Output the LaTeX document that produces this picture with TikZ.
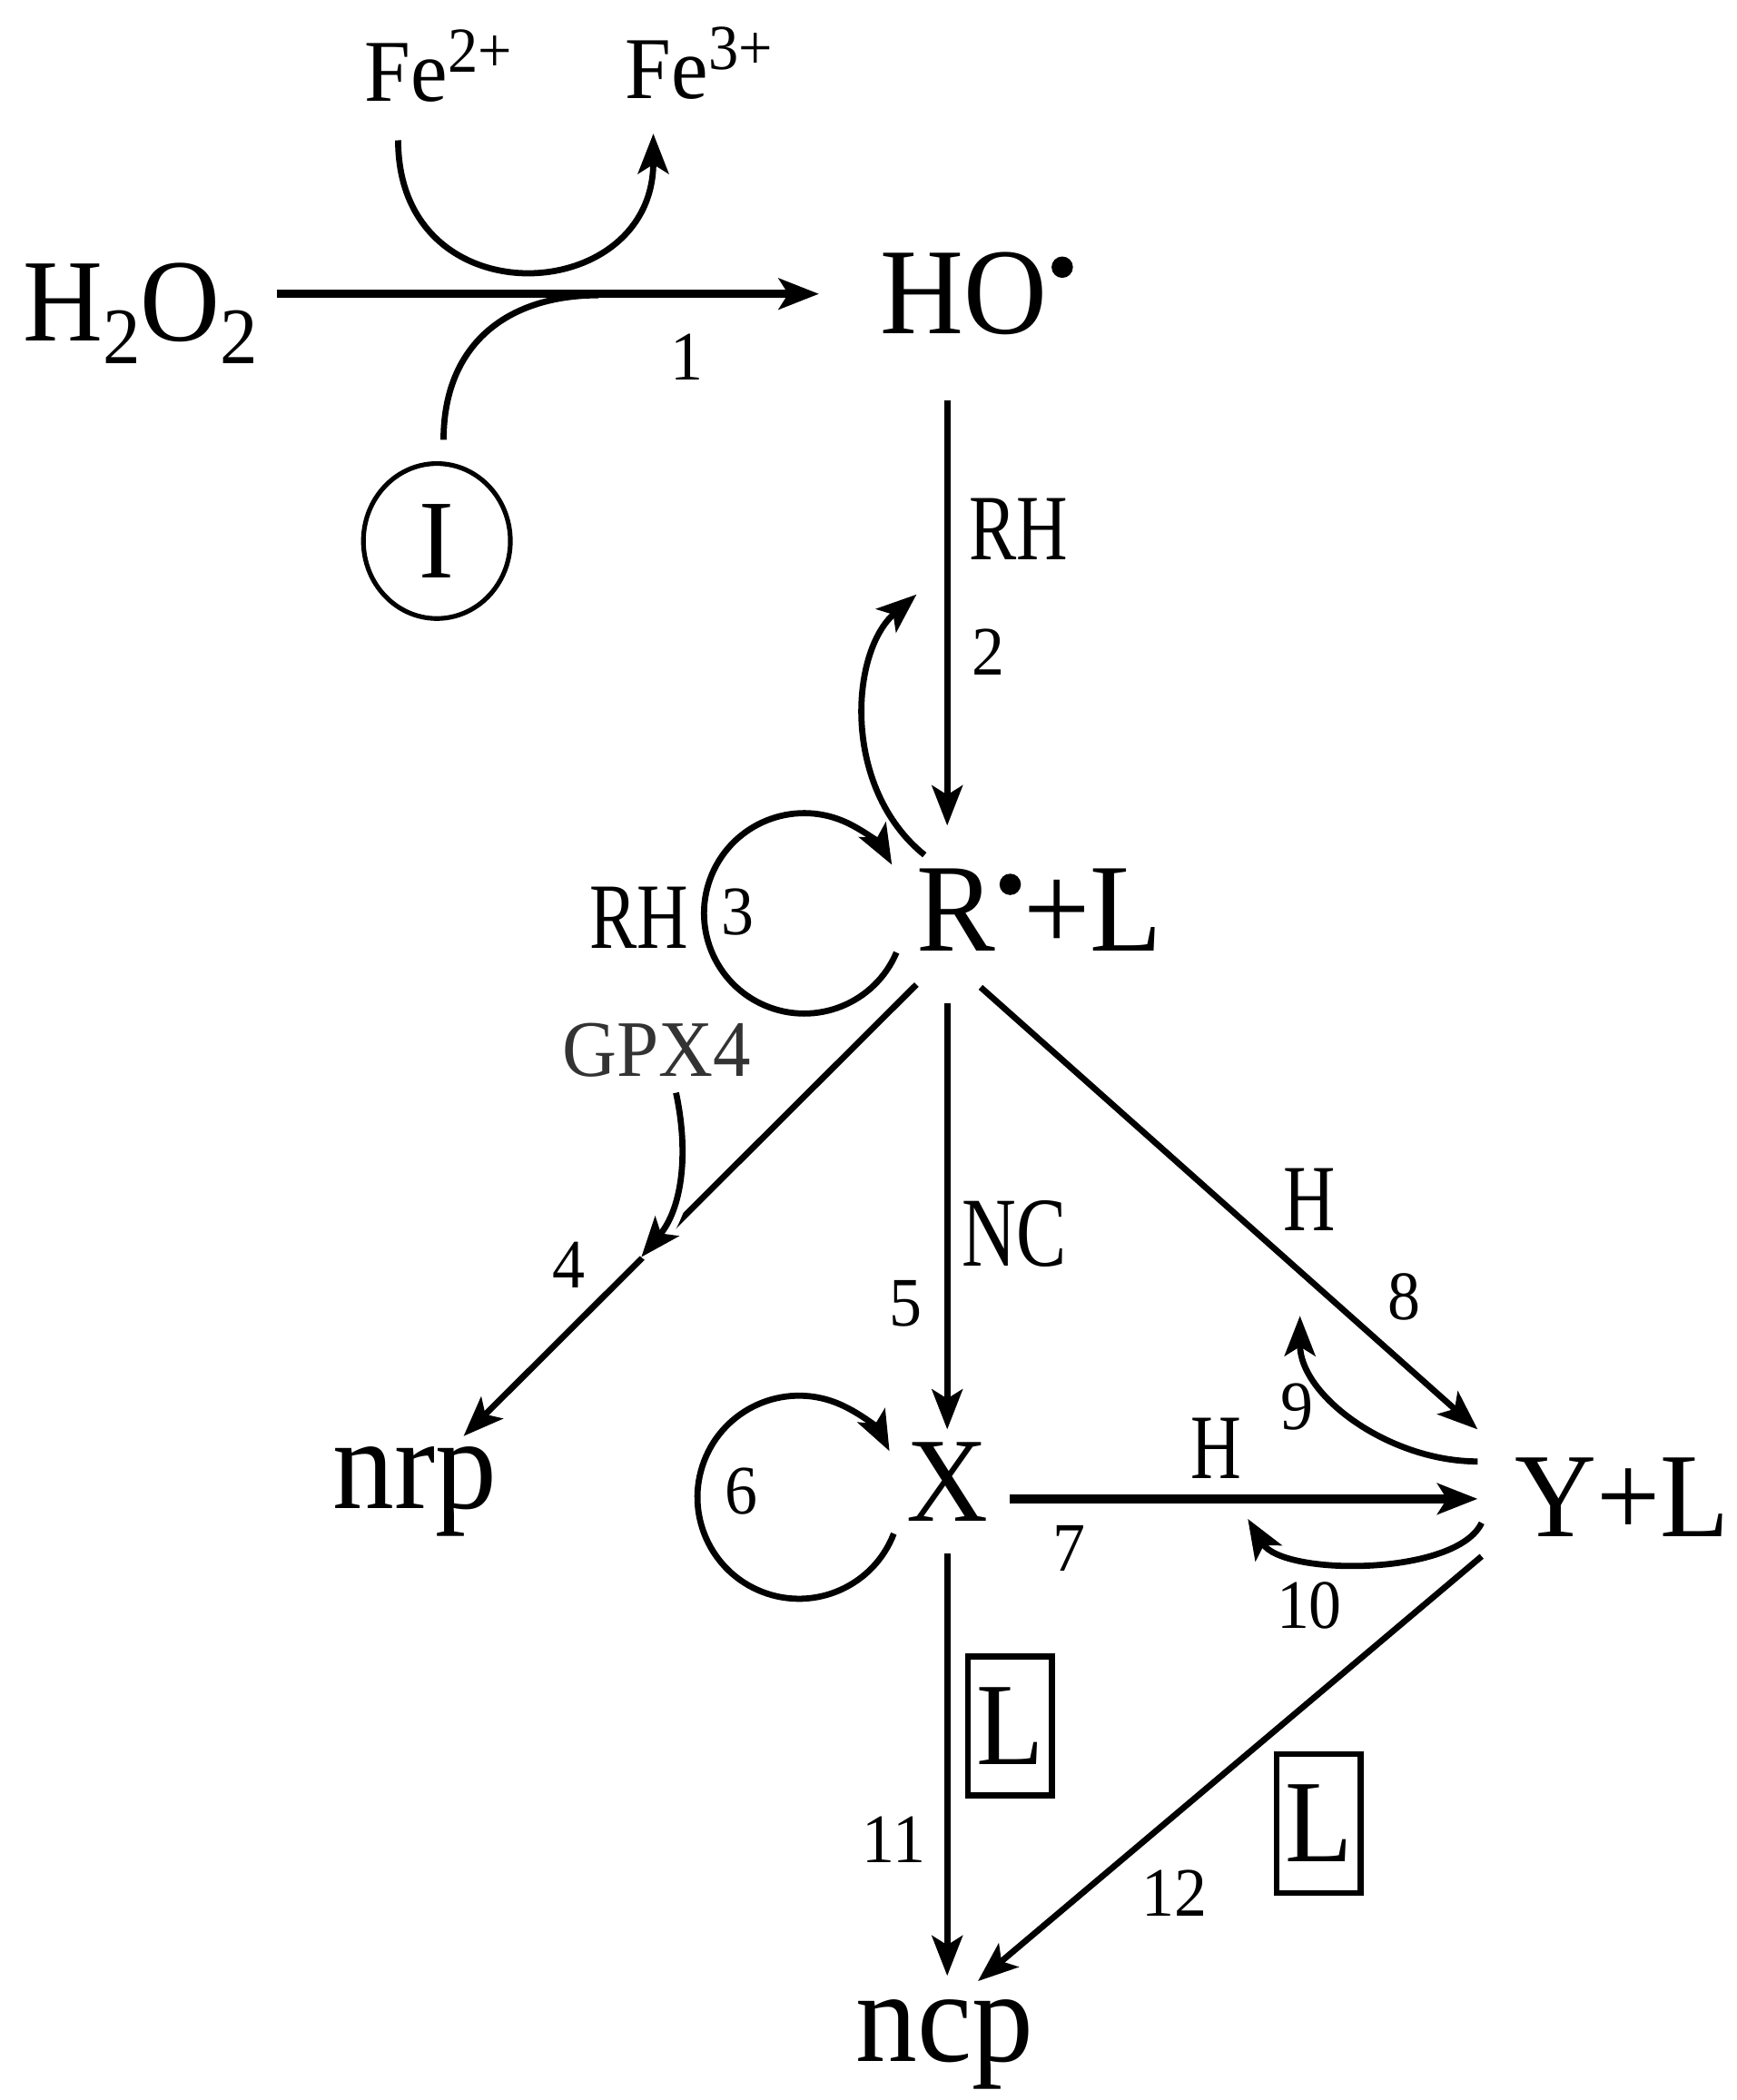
\documentclass[tikz,border=0pt]{standalone}
\usepackage{fontspec}
\setmainfont{Liberation Serif}[FakeStretch=0.94]
\newfontfamily\narrowfont{Liberation Serif}[FakeStretch=0.76]
\usetikzlibrary{arrows.meta,shapes.geometric}
\newcommand{\fsz}[1]{\fontsize{#1}{#1}\selectfont}
\newcommand{\rdot}{\hspace{3pt}\raisebox{42pt}{\tikz\fill (0pt,0pt) circle[radius=8pt];}\hspace{2pt}}
\newcommand{\subr}[1]{\raisebox{-17pt}{\fsz{60}#1}}
\newcommand{\supr}[1]{\raisebox{22pt}{\fsz{48}#1}}
\begin{document}
\begin{tikzpicture}[x=1pt,y=1pt,
  txt/.style={inner sep=0pt, anchor=base west},
  big/.style={txt, font=\fsz{90}},
  mid/.style={txt, font=\narrowfont\fsz{70}},
  num/.style={inner sep=0pt, font=\fsz{52}},
  tip/.style={-{Stealth[length=30pt,width=23pt,inset=7pt]}},
  rx/.style={line width=4.6pt, tip},
  rxbold/.style={line width=6.5pt, tip},
  lbox/.style={draw, line width=4.5pt, minimum width=63pt, minimum height=104pt, inner sep=0pt, font=\fsz{88}},
]
\fill[white] (0,0) rectangle (1300,-1572);
\useasboundingbox (0,0) rectangle (1300,-1572);

% species
\node[big, font=\fsz{88}] (h2o2) at (17,-255) {H\subr{2}O\subr{2}};
\node[big, font=\fsz{92}] (ho) at (659,-250) {HO\rdot};
\node[txt, font=\fsz{66}] (fe2) at (273,-76) {Fe\supr{2+}};
\node[txt, font=\fsz{66}] (fe3) at (468,-74) {Fe\supr{3+}};
\node[draw, ellipse, line width=3.5pt, minimum width=110pt, minimum height=116pt, inner sep=0pt, font=\fsz{84}] (inh) at (327,-405) {I};
\node[mid] (rh1) at (725,-419) {RH};
\node[big, font=\fsz{94}] (rl) at (686,-712) {R\rdot+L};
\node[mid] (rh3) at (441,-710) {RH};
\node[txt, font=\fsz{60}, text=black!80] (gpx) at (421,-806) {GPX4};
\node[txt, font=\narrowfont\fsz{74}] (nc) at (720,-948) {NC};
\node[inner sep=0pt, anchor=base, font=\narrowfont\fsz{71}] (h8) at (980,-921) {H};
\node[inner sep=0pt, anchor=base, font=\narrowfont\fsz{69}] (h7) at (910,-1107) {H};
\node[big, anchor=base] (xx) at (709,-1139) {X};
\node[big] (yl) at (1134,-1150) {Y+L};
\node[big, font=\fsz{98}] (nrp) at (249,-1129) {nrp};
\node[big, anchor=base, font=\fsz{98}] (ncp) at (707,-1543) {ncp};
\node[lbox] (lb1) at (756,-1292) {L};
\node[lbox] (lb2) at (987,-1365) {L};

% step numbers
\node[num] (n1) at (514,-267) {1};
\node[num] (n2) at (740,-488) {2};
\node[num] (n3) at (552,-683) {3};
\node[num] (n4) at (426,-947) {4};
\node[num] (n5) at (678,-976) {5};
\node[num] (n6) at (555,-1116) {6};
\node[num] (n7) at (800,-1159) {7};
\node[num] (n8) at (1051,-971) {8};
\node[num] (n9) at (971,-1053) {9};
\node[num] (n10) at (980,-1202) {10};
\node[num] (n11) at (669,-1377) {11};
\node[num] (n12) at (879,-1417) {12};

% step 1
\draw[rxbold] ([xshift=190pt,yshift=35pt]h2o2.base west) -- ([xshift=-46pt,yshift=30pt]ho.base west);
\draw[rx] ([xshift=25pt,yshift=-29pt]fe2.base west) .. controls +(0,-135) and +(0,-130) .. ([xshift=21pt,yshift=-26pt]fe3.base west);
\draw[line width=4.6pt] ([xshift=5pt,yshift=16pt]inh.north) .. controls +(0,70) and +(-70,0) .. ([xshift=431pt,yshift=34pt]h2o2.base west);

% step 2
\draw[rx] ([xshift=50pt,yshift=-50pt]ho.base west) -- ([xshift=23pt,yshift=94pt]rl.base west);
\draw[rx] ([xshift=6pt,yshift=72pt]rl.base west) .. controls +(-62,50) and +(-50,-43) .. ([yshift=267pt]rl.base west);

% step 3
\draw[rx] ([xshift=-15pt,yshift=-1pt]rl.base west) arc[start angle=-23, end angle=-331, radius=75];

% step 4
\draw[rx] ([yshift=-25pt]rl.base west) -- ([xshift=98pt,yshift=54pt]nrp.base west);
\draw[rx, preaction={draw=white, line width=20pt, -}] ([xshift=85pt,yshift=-12pt]gpx.base west) .. controls +(10,-47) and +(30,36) .. ([xshift=59pt,yshift=-135pt]gpx.base west);

% step 5
\draw[rx] ([xshift=23pt,yshift=-39pt]rl.base west) -- ([yshift=69pt]xx.base);

% step 6
\draw[rx] ([xshift=-40pt,yshift=-9pt]xx.base) arc[start angle=-21, end angle=-333, radius=76];

% step 7
\draw[rxbold] ([xshift=47pt,yshift=17pt]xx.base) -- ([xshift=-28pt,yshift=28pt]yl.base west);

% step 8
\draw[rx] ([xshift=48pt,yshift=-27pt]rl.base west) -- ([xshift=-28pt,yshift=80pt]yl.base west);

% step 9
\draw[rx] ([xshift=-28pt,yshift=56pt]yl.base west) .. controls +(-66,0) and +(0,-60) .. ([xshift=-161pt,yshift=165pt]yl.base west);

% step 10
\draw[rx] ([xshift=-25pt,yshift=10pt]yl.base west) .. controls +(-19,-40) and +(26,-43) .. ([xshift=-200pt,yshift=13pt]yl.base west);

% step 11
\draw[rx] ([yshift=-24pt]xx.base) -- ([xshift=2pt,yshift=64pt]ncp.base);

% step 12
\draw[rx] ([xshift=-25pt,yshift=-15pt]yl.base west) -- ([xshift=25pt,yshift=60pt]ncp.base);
\end{tikzpicture}
\end{document}
